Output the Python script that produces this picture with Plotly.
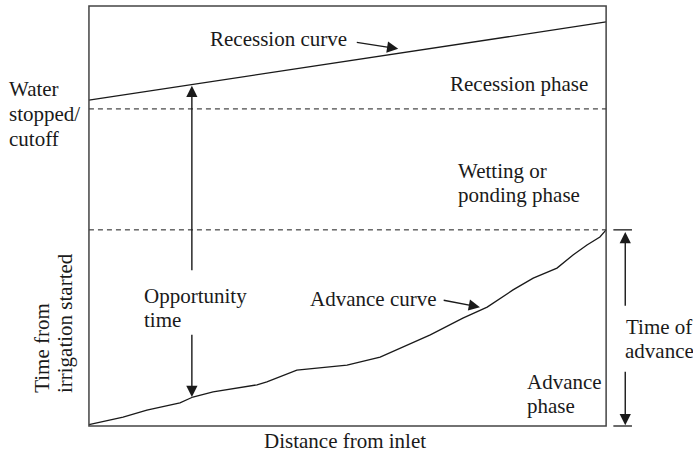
import plotly.graph_objects as go

# Schematic data (distance from inlet 0-100, time 0-100)
recession_x = [0, 100]
recession_t = [77.6, 96.2]
cutoff_t = 75.5
advance_end_t = 46.7
advance_x = [0, 6.6, 11.2, 17.6, 20.1, 24.0, 32.5, 34.4, 40.2, 49.9, 56.3, 60.2,
             66.0, 72.3, 77.0, 82.0, 85.9, 90.5, 93.6, 96.3, 98.8, 100]
advance_t = [0.3, 2.1, 3.8, 5.5, 6.9, 8.1, 9.8, 10.5, 13.3, 14.5, 16.4, 18.6,
             21.7, 25.7, 28.3, 32.4, 35.2, 37.6, 40.7, 43.1, 45.0, 46.7]
opportunity_x = 19.9
advance_time_x = 103.7

ink = "#1a1a1a"
FONT = dict(family="Liberation Serif, Times New Roman, serif", size=21, color=ink)

fig = go.Figure()

fig.add_trace(go.Scatter(x=recession_x, y=recession_t, mode="lines",
                         line=dict(color=ink, width=1.3), hoverinfo="skip"))
fig.add_trace(go.Scatter(x=advance_x, y=advance_t, mode="lines",
                         line=dict(color=ink, width=1.3), hoverinfo="skip"))
for t in (cutoff_t, advance_end_t):
    fig.add_trace(go.Scatter(x=[0, 100], y=[t, t], mode="lines",
                             line=dict(color=ink, width=1, dash="5px,4px"),
                             hoverinfo="skip"))
# time-of-advance bars
for t in (advance_end_t, 0):
    fig.add_trace(go.Scatter(x=[101.4, 105.0], y=[t, t], mode="lines",
                             line=dict(color=ink, width=1.3), hoverinfo="skip"))

fig.add_shape(type="rect", x0=0, x1=100, y0=0, y1=100,
              line=dict(color="#444", width=1.5))

def arrow(x0, y0, x1, y1):
    fig.add_annotation(x=x1, y=y1, ax=x0, ay=y0, xref="x", yref="y",
                       axref="x", ayref="y", text="", showarrow=True,
                       arrowhead=2, arrowsize=1.6, arrowwidth=1.4,
                       arrowcolor=ink, standoff=0)

arrow(opportunity_x, 36.7, opportunity_x, recession_t[0] + (recession_t[1]-recession_t[0])*opportunity_x/100 - 0.3)
arrow(opportunity_x, 22.1, opportunity_x, 6.9)
arrow(advance_time_x, 28.3, advance_time_x, 46.2)
arrow(advance_time_x, 13.3, advance_time_x, 0.2)
arrow(51.5, 91.4, 59.8, 89.8)
arrow(68.3, 30.0, 75.6, 28.3)

def label(txt, x, y, xanchor="left"):
    fig.add_annotation(x=x, y=y, xref="x", yref="y", text=txt, showarrow=False,
                       xanchor=xanchor, yanchor="middle", font=FONT)

label("Recession curve", 23.0, 92.1)
label("Water", -15.9, 80.2)
label("stopped/", -15.9, 74.3)
label("cutoff", -15.9, 68.3)
label("Recession phase", 69.4, 81.4)
label("Wetting or", 71.0, 60.7)
label("ponding phase", 71.0, 55.0)
label("Opportunity", 10.3, 31.0)
label("time", 10.3, 25.2)
label("Advance curve", 42.4, 30.2)
label("Time of", 103.5, 23.6)
label("advance", 103.3, 17.9)
label("Advance", 84.3, 10.5)
label("phase", 84.3, 4.8)
label("Distance from inlet", 49.5, -3.5, xanchor="center")

for txt, x in (("Time from", -9.1), ("irrigation started", -4.6)):
    fig.add_annotation(x=x, y=7.4, xref="x", yref="y", text=txt, showarrow=False,
                       textangle=-90, xanchor="center", yanchor="bottom", font=FONT)

fig.update_layout(
    width=693, height=452, margin=dict(l=0, r=0, t=0, b=0),
    paper_bgcolor="white", plot_bgcolor="white", showlegend=False,
    xaxis=dict(range=[-17.2, 116.8], visible=False, fixedrange=True),
    yaxis=dict(range=[-6.19, 101.43], visible=False, fixedrange=True),
)

fig.write_html("out.html", config={"displayModeBar": False},
               post_script="document.body.style.margin='0px';document.body.style.overflow='hidden';")
